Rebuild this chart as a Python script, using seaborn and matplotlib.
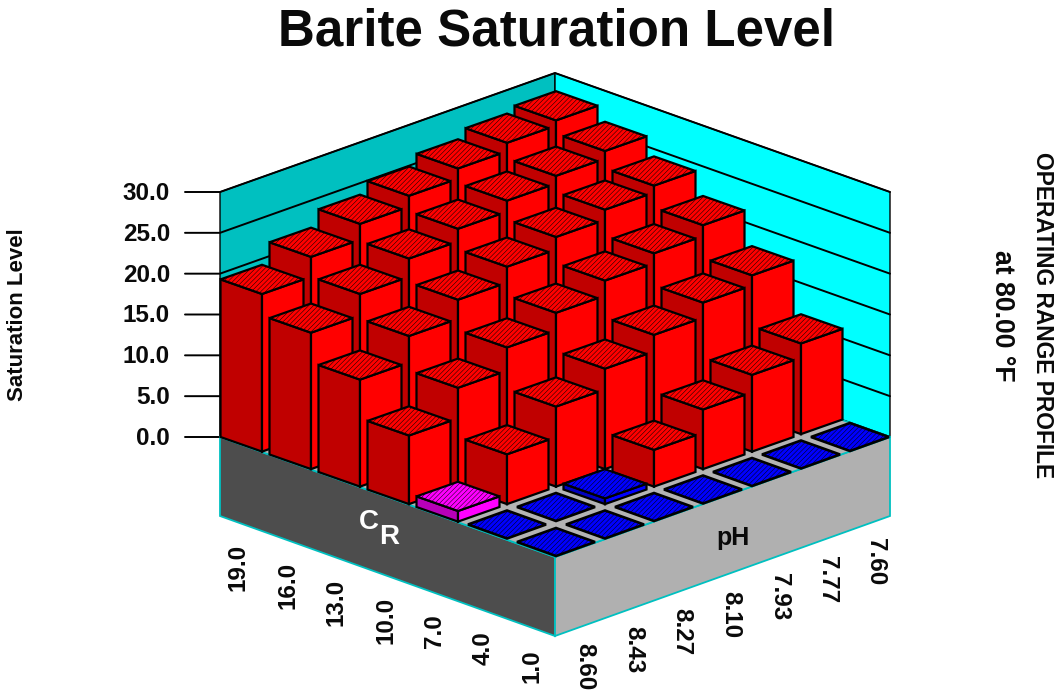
import matplotlib
matplotlib.use("Agg")
import matplotlib.pyplot as plt
from matplotlib.patches import Polygon
import seaborn as sns

sns.set_theme(style="white")
plt.rcParams['font.family'] = ['Liberation Sans', 'DejaVu Sans']
plt.rcParams['hatch.linewidth'] = 0.35

# Valores
cr_labels = ["19.0", "16.0", "13.0", "10.0", "7.0", "4.0", "1.0"]
ph_labels = ["8.60", "8.43", "8.27", "8.10", "7.93", "7.77", "7.60"]
z_ticks = [0, 5, 10, 15, 20, 25, 30]

# una fila por CR, una columna por pH
cr_19 = [19.3, 21.7, 23.6, 24.9, 26.1, 27.1, 27.7]
cr_16 = [16.7, 19.3, 21.5, 23.0, 24.3, 25.2, 26.1]
cr_13 = [13.1, 16.3, 18.6, 20.5, 22.0, 23.2, 24.0]
cr_10 = [8.4, 12.1, 14.9, 17.0, 18.8, 20.0, 21.3]
cr_7 = [1.3, 6.1, 9.8, 12.3, 14.3, 16.1, 17.3]
cr_4 = [0.0, 0.0, 0.7, 4.5, 7.3, 9.4, 11.1]
cr_1 = [0.0, 0.0, 0.0, 0.0, 0.0, 0.0, 0.0]
heights = [cr_19, cr_16, cr_13, cr_10, cr_7, cr_4, cr_1]

# Proyeccion isometrica (pixeles de la figura)
X0, Y0 = 262, 437
DX, DY = 49, 17.5
PX_UNIT = 245 / 30
CORNER_L, CORNER_R = 220, 890
CORNER_TOP, CORNER_FRONT = 318, 557
BASE = 79
TEXT = "#0a0a0a"


def cell(c, h, z=0):
    return X0 + DX * (c + h), Y0 + DY * (c - h) - z * PX_UNIT


def poly(ax, pts, fc, ec="black", lw=1.6, **kw):
    ax.add_patch(Polygon(pts, closed=True, facecolor=fc, edgecolor=ec, linewidth=lw, **kw))


def draw_bar(ax, c, h, z):
    if z < 1:
        top, side = "#0000ff", "#0000c0"
    elif z < 2:
        top, side = "#ff00ff", "#b800b8"
    else:
        top, side = "#ff0000", "#c00000"
    hw, hh = (39, 14) if z == 0 else (41.5, 14.6)
    x, y0 = cell(c, h)
    y1 = y0 - z * PX_UNIT
    if z > 0:
        poly(ax, [(x - hw, y1), (x, y1 + hh), (x, y0 + hh), (x - hw, y0)], side)
        poly(ax, [(x + hw, y1), (x, y1 + hh), (x, y0 + hh), (x + hw, y0)], top)
    poly(ax, [(x - hw, y1), (x, y1 - hh), (x + hw, y1), (x, y1 + hh)], top,
         lw=1.9 if z == 0 else 1.6, hatch="/" * 7)


fig, ax = plt.subplots(figsize=(10.6, 6.92), dpi=100)
ax.set_position([0, 0, 1, 1])
ax.set_xlim(0, 1060)
ax.set_ylim(692, 0)
ax.axis("off")

# Paredes
wall_h = 30 * PX_UNIT
xm = (CORNER_L + CORNER_R) / 2
poly(ax, [(CORNER_L, Y0), (xm, CORNER_TOP), (xm, CORNER_TOP - wall_h), (CORNER_L, Y0 - wall_h)],
     "#00c0c0", lw=1.0, zorder=0)
poly(ax, [(CORNER_R, Y0), (xm, CORNER_TOP), (xm, CORNER_TOP - wall_h), (CORNER_R, Y0 - wall_h)],
     "#00ffff", lw=1.0, zorder=0)
for t in z_ticks:
    dy = t * PX_UNIT
    ax.plot([185, CORNER_L, xm, CORNER_R], [Y0 - dy, Y0 - dy, CORNER_TOP - dy, Y0 - dy],
            color="black", lw=1.4, solid_joinstyle="miter", zorder=0.5)
    ax.text(170, Y0 - dy + 1.5, f"{t:.1f}", ha="right", va="center", fontsize=17.5,
            fontweight="bold", color=TEXT)

# Base y piso
poly(ax, [(CORNER_L, Y0), (xm, CORNER_FRONT), (xm, CORNER_FRONT + BASE), (CORNER_L, Y0 + BASE)],
     "#4d4d4d", ec="#00c0c0", lw=1.3)
poly(ax, [(CORNER_R, Y0), (xm, CORNER_FRONT), (xm, CORNER_FRONT + BASE), (CORNER_R, Y0 + BASE)],
     "#b0b0b0", ec="#00c0c0", lw=1.3)
poly(ax, [(CORNER_L, Y0), (xm, CORNER_TOP), (CORNER_R, Y0), (xm, CORNER_FRONT)],
     "#b4b4b4", ec="#00c0c0", lw=1.3)

# Barras de atras hacia adelante
cells = [(c, h) for c in range(len(cr_labels)) for h in range(len(ph_labels))]
for c, h in sorted(cells, key=lambda p: p[0] - p[1]):
    draw_bar(ax, c, h, heights[c][h])

# Etiquetas de los ejes
for c, lab in enumerate(cr_labels):
    x, y = cell(c, 0)
    ax.text(x - 24 + 0.5, y + 107, lab, rotation=90, ha="center", va="top", fontsize=17.5,
            fontweight="bold", color=TEXT)
for h, lab in enumerate(ph_labels):
    x, y = cell(len(cr_labels) - 1, h)
    ax.text(x + 29 - 0.5 * h, y + 125, lab, rotation=270, ha="center", va="center", fontsize=17.5,
            fontweight="bold", color=TEXT)

ax.text(369, 522, "C", color="white", fontsize=20, fontweight="bold", ha="center", va="center")
ax.text(389, 537, "R", color="white", fontsize=20, fontweight="bold", ha="center", va="center")
ax.text(733, 538, "pH", color=TEXT, fontsize=18, fontweight="bold", ha="center", va="center")

ax.text(556, 32, "Barite Saturation Level", ha="center", va="center", fontsize=36.8,
        fontweight="bold", color=TEXT)
ax.text(18, 315, "Saturation Level", rotation=90, ha="center", va="center", fontsize=16,
        fontweight="bold", color=TEXT)
ax.text(1043, 315, "OPERATING RANGE PROFILE", rotation=270, ha="center", va="center", fontsize=16.4,
        fontweight="bold", color=TEXT)
ax.text(1002, 316, "at 80.00 °F", rotation=270, ha="center", va="center", fontsize=19.2,
        fontweight="bold", color=TEXT)

fig.savefig("out.png", dpi=100)
